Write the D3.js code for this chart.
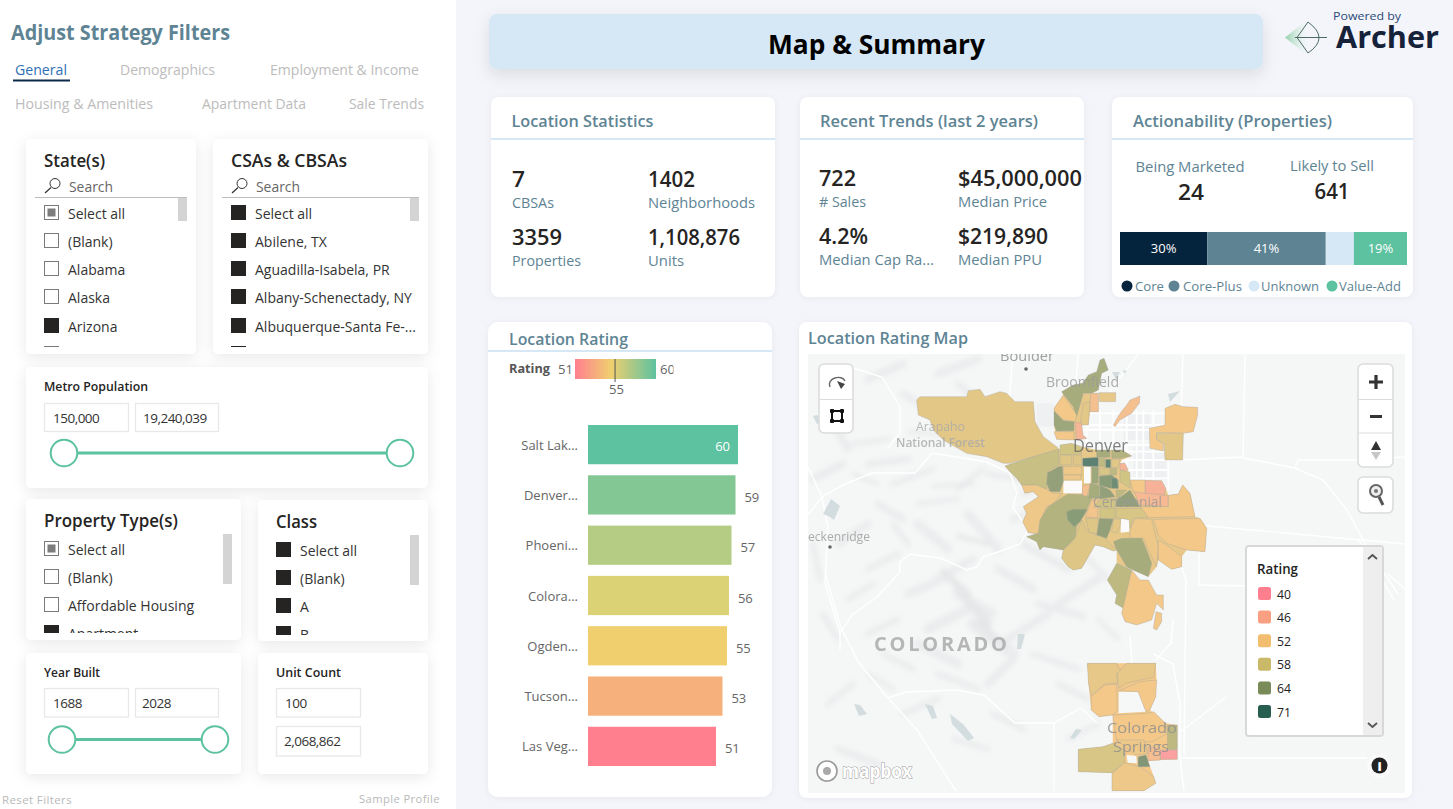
<!DOCTYPE html>
<html><head><meta charset="utf-8">
<script src="https://cdn.jsdelivr.net/npm/d3@7/dist/d3.min.js"></script>
<style>html,body{margin:0;padding:0;background:#f3f5fa;overflow:hidden}svg{display:block}text{font-family:"Open Sans","Noto Sans",sans-serif}</style>
</head><body><svg id="c" width="1453" height="809"></svg>
<script>
// ---------- chart data ----------
const barCategories = ["Salt Lak...","Denver...","Phoeni...","Colora...","Ogden...","Tucson...","Las Veg..."];
const barValues = [60,59,57.4,56.4,55.6,53.8,51.2];
const barColorStops = [51,53,55,56,57,59,60];
const barColorRange = ["#ff7f8e","#f6b07c","#f0cf6f","#dbd175","#b5cc84","#82c794","#5dc2a0"];
const stackCategories = ["Core","Core-Plus","Unknown","Value-Add"];
const stackValues = [30.4,41.3,9.8,18.5];
const stackColors = ["#04233c","#5e8494","#d6e8f5","#5dc2a0"];
const legendRatings = [40,46,52,58,64,71];
const legendColors = ["#ff7f8e","#f9a082","#f2bd6e","#c9b968","#7a8b5a","#285e4f"];
const tabs = [["General",15,75,52],["Demographics",120,75,95],["Employment & Income",270,75,149],["Housing & Amenities",15,109,138],["Apartment Data",202,109,104],["Sale Trends",349,109,75]];
const stateItems = ["Select all","(Blank)","Alabama","Alaska","Arizona",""];
const stateMarks = ["part","off","off","off","on","off"];
const csaItems = ["Select all","Abilene, TX","Aguadilla-Isabela, PR","Albany-Schenectady, NY","Albuquerque-Santa Fe-...",""];
const propItems = ["Select all","(Blank)","Affordable Housing","Apartment"];
const propMarks = ["part","off","off","on"];
const classItems = ["Select all","(Blank)","A","B"];
const locationStats = [["7","CBSAs"],["1402","Neighborhoods"],["3359","Properties"],["1,108,876","Units"]];
const recentTrends = [["722","# Sales"],["$45,000,000","Median Price"],["4.2%","Median Cap Ra..."],["$219,890","Median PPU"]];

// continuous underlays beneath the tract detail
const northUnder = [
[54,"315,348 400,320 480,300 480,285 545,290 590,300 665,300 695,318 665,330 660,340 690,368 690,390 735,390 785,392 797,415 805,436 835,432 848,405 870,430 885,500 900,505 920,535 915,605 860,600 845,620 845,650 815,658 775,630 770,650 745,680 650,640 650,600 640,603 610,590 585,585 545,655 520,660 505,650 485,625 490,600 430,590 420,600 410,575 380,560 415,552 385,548 368,515 380,490 370,470 415,440 400,425 375,430 365,405 350,385 330,365"],
[54,"462,175 490,135 485,125 520,105 548,100 548,130 595,130 595,185 570,185 565,225 545,225 548,255 560,265 530,270 470,268 462,225"]
];
const northHoles = ["490,392 546,392 546,430 490,430","552,350 572,350 572,400 552,400","662,507 688,507 688,545 662,548"];
const southUnder = [[52,"735,370 910,370 912,420 910,470 895,510 935,550 965,555 965,658 890,662 905,710 910,730 880,752 798,752 798,698 712,695 712,628 775,620 800,610 800,525 765,530 745,510 738,430"]];
const southHoles = ["815,455 865,455 885,515 815,520","835,645 860,648 862,670 838,668"];
// tracts on the north map grid: [rating, "u,v ..."]
const northTracts = [
[55,"50,150 60,140 200,140 205,122 240,118 255,140 300,125 320,130 345,155 400,155 405,215 430,260 470,290 480,300 400,320 330,340 310,340 260,320 200,310 130,270 100,240 90,210 55,195"],
[59,"315,348 400,320 475,298 478,345 445,362 440,418 410,405 365,405 350,385 330,365"],
[64,"443,368 475,350 487,348 490,395 480,425 450,425 440,400"],
[53,"365,405 410,405 440,418 460,430 485,430 462,460 440,470 425,505 415,552 385,548 368,515 380,490 370,470 415,440 400,425 375,430"],
[61,"380,560 415,550 420,510 445,470 490,440 505,432 560,435 575,445 555,490 530,530 525,565 490,600 430,590 420,600 410,575"],
[65,"500,485 520,478 562,478 540,515 522,530 503,510"],
[56,"490,600 525,565 545,510 560,540 590,555 600,550 650,600 640,603 610,590 585,585 545,655 520,660 505,650 485,625"],
[51,"557,500 575,450 595,450 592,505"],
[56,"557,505 595,505 595,550 568,548"],
[64,"598,505 640,507 630,540 620,565 590,555"],
[58,"600,475 645,475 645,505 600,505"],
[55,"640,507 662,507 660,530 650,550 635,545"],
[57,"648,475 730,475 745,503 700,505 690,535 688,510 662,505 648,503"],
[64,"648,470 650,450 690,420 720,470"],
[48,"700,420 805,438 805,470 720,465"],
[46,"735,392 785,392 797,415 793,435 735,430"],
[52,"805,436 835,432 848,405 870,430 885,500 745,503 722,470 805,470"],
[52,"760,508 900,505 920,535 915,605 860,600 800,580 775,555"],
[53,"690,540 705,505 755,508 775,590 770,650 745,600 730,565 690,565"],
[52,"775,570 800,585 845,620 845,650 815,658 775,630"],
[62,"650,600 640,575 665,565 725,565 740,600 755,640 745,680 700,660 680,650"],
[60,"650,640 695,660 690,730 670,775 645,760 650,735 622,690"],
[52,"695,660 720,690 745,690 770,735 790,735 790,780 770,760 755,810 710,825 675,815 665,790"],
[52,"768,785 785,790 785,815 770,840 760,835"],
[62,"485,125 520,105 548,100 565,75 590,65 600,30 612,25 625,60 605,70 595,120 575,130 550,130 530,200 520,170"],
[52,"462,175 490,135 530,195 525,215 490,210 462,182"],
[55,"550,160 570,155 565,225 540,225 545,190"],
[50,"572,130 595,130 595,185 570,185"],
[54,"598,128 647,128 647,155 598,155"],
[50,"640,225 660,190 680,165 690,150 720,138 718,160 695,190 660,210 645,230"],
[63,"462,183 490,212 522,215 522,242 470,243 462,225"],
[47,"525,218 545,218 548,255 560,265 530,270"],
[52,"462,245 522,245 522,270 470,268"],
[58,"480,285 515,280 545,290 545,312 480,315"],
[52,"795,175 825,163 850,170 893,172 893,195 880,245 850,250 770,248 770,268 790,280 790,303 750,295 748,235 795,225"],
[55,"770,250 850,250 848,330 795,330 792,280 770,268"],
[56,"480,315 515,315 515,345 480,345"],
[56,"520,315 545,315 545,345 520,345"],
[53,"490,350 545,350 545,375 490,375"],
[53,"490,375 545,375 540,390 490,390"],
[70,"548,325 595,322 595,350 548,348"],
[60,"598,325 615,325 615,350 598,350"],
[69,"617,328 632,328 632,353 617,353"],
[62,"590,300 630,300 630,322 590,322"],
[61,"635,300 665,300 695,318 665,325 635,325"],
[55,"635,328 660,328 655,352 635,352"],
[47,"660,340 675,340 685,360 660,360"],
[63,"575,350 595,350 595,400 575,400"],
[57,"598,355 630,355 630,375 598,375"],
[60,"632,355 650,355 650,375 632,375"],
[65,"598,378 635,375 655,390 655,415 630,415 598,405"],
[68,"635,385 650,385 655,415 635,415"],
[58,"660,360 690,368 690,415 660,395"],
[52,"690,390 735,390 735,430 700,425"],
[62,"570,400 598,405 600,445 565,445"],
[64,"600,405 630,420 645,440 600,447"],
[60,"648,420 680,420 650,450"],
[50,"548,405 570,405 560,440 547,435"],
[58,"600,450 645,445 645,472 580,472"]
];
// tracts on the south map grid
const southTracts = [
[54,"735,370 810,370 815,385 835,395 810,400 812,430 780,432 745,468 738,430"],
[54,"835,370 910,370 905,412 870,420 835,430 815,445 812,400"],
[52,"870,425 912,420 910,470 895,510 885,515 865,455 815,452"],
[52,"745,468 780,435 810,432 812,510 800,525 765,530 745,510"],
[52,"800,525 885,520 905,515 935,550 940,580 900,605 840,610 810,600"],
[60,"940,555 965,555 965,628 940,628"],
[42,"922,630 965,630 965,658 922,658"],
[49,"890,620 920,625 922,660 890,662"],
[57,"712,628 775,620 800,610 832,630 830,670 798,698 712,695"],
[53,"798,700 830,668 870,680 905,710 910,730 880,752 798,752"],
[66,"865,650 885,645 895,680 865,680"],
[53,"810,600 880,600 890,640 860,645 835,625"]
];
// base-map features on the map-corner grid (units = offset from panel corner)
const hillStrokes = [
[60,25,95,10,8],[95,40,130,60,7],[45,90,80,85,5],[20,60,40,95,8],[130,20,170,5,8],[150,30,180,55,7],[5,125,35,110,8],[60,110,100,105,7],[85,130,125,115,6],[110,150,150,145,5],[150,135,175,115,6],[180,120,230,128,6],[140,85,165,70,6],[70,150,95,165,7],[30,190,60,170,8],[110,170,140,195,9],[60,215,90,200,6],[160,160,190,195,9],[130,225,165,205,8],[190,215,225,235,8],[40,245,65,230,6],[85,170,100,190,6],[15,260,30,285,6],[5,190,12,225,6],
[100,240,135,225,8],[150,240,185,260,9],[120,275,160,255,10],[165,270,205,300,12],[110,290,150,310,9],[180,330,205,305,8],[130,320,170,335,6],[60,280,90,265,6],[75,300,105,315,6],[205,165,250,150,7],[215,190,260,215,8],[250,250,290,225,8],[230,250,275,262,7],[275,200,300,225,6],[200,285,240,260,8],[225,300,270,315,6],[290,265,310,285,5],[250,330,280,345,6],[215,140,250,130,5],[95,360,130,345,6],[60,320,85,335,5],[20,350,45,330,6],[145,385,180,395,5],[185,360,215,375,6],[260,385,290,370,5],[30,395,70,410,7]
];
const darkHills = [[150,235,180,270,9],[170,270,195,290,8],[135,218,160,240,7],[45,120,70,130,3],[125,132,165,130,3],[150,182,180,190,4],[160,70,190,75,3],[100,78,130,80,3]];
const roads = [
[[0,161],[14,143],[35,131],[64,119],[107,119],[124,99],[149,103],[179,108],[202,119],[209,139],[205,153],[220,176],[212,190],[190,198],[175,203],[169,213],[159,216],[132,204],[102,200],[92,208],[92,218],[69,243],[44,261],[32,279],[32,296]],
[[45,14],[74,23],[92,53],[92,79],[80,94]],
[[0,113],[14,143],[20,173],[17,229],[32,279]],
[[17,219],[33,274],[51,309],[80,344],[98,338],[148,336],[176,341],[207,369],[246,369],[273,354],[289,369]],
[[80,344],[109,376],[148,437]],[[246,370],[246,437]],[[322,283],[324,309]],[[365,266],[363,289],[348,306]],
[[437,1],[435,103],[372,106]],[[435,104],[487,114],[515,126],[539,156],[559,193],[590,240]],[[487,114],[490,106],[550,106],[597,103]],
[[551,186],[586,246]],[[371,404],[559,404]],[[418,343],[371,379]],[[391,199],[391,231],[500,233],[574,253]],[[580,220],[597,235]],
[[330,0],[300,40],[260,75]],[[205,0],[200,60]],[[270,0],[265,70]],[[375,0],[372,100]],[[300,106],[372,106]],[[340,170],[400,172],[597,190]],[[372,210],[378,225],[376,400]],[[345,300],[365,310],[372,350],[372,404],[376,437]]
];
const urbanV = [600,640,680,710,760,805,560,730];
const urbanH = [190,240,285,330,360,385,225,305];
const lakes = [
[[360,40],[372,37],[362,48]],[[304,18],[312,18],[308,26]],[[315,16],[319,17],[316,20]],
[[9,61],[16,68],[9,70],[5,62]],[[15,160],[23,145],[32,152],[26,166],[22,163]],
[[46,350],[52,351],[59,360],[51,362]],[[117,350],[125,352],[129,364],[124,365]],[[142,360],[155,370],[166,384],[160,387],[144,370]],[[268,375],[274,376],[266,385],[262,384]],[[210,280],[217,280],[213,295],[209,295]]
];
const mapLabels = [
["Boulder",1000,361,54,15,"#8c8c8c",400],["Broomfield",1046,387,73,15,"#9a9a9a",400],["Arapaho",916,431,49,13,"#aaa",400],["National Forest",896,447,89,13,"#aaa",600],
["Denver",1073,452,55,19,"#666",400],["Centennial",1093,507,69,15,"#999",400],["eckenridge",808,541,62,13,"#9a9a9a",400],["Colorado",1107,733,70,15,"#8f8f8f",400],["Springs",1113,752,56,15,"#8f8f8f",400]
];

// ---------- helpers ----------
const svg = d3.select("#c");
const defs = svg.append("defs");
function shadow(id,dy,blur,op){const f=defs.append("filter").attr("id",id).attr("x","-30%").attr("y","-30%").attr("width","160%").attr("height","170%");
  f.append("feDropShadow").attr("dx",0).attr("dy",dy).attr("stdDeviation",blur).attr("flood-color","#000").attr("flood-opacity",op);}
shadow("sh",3,7,.09);shadow("sh2",6,8,.1);shadow("sh3",1,3,.05);
defs.append("filter").attr("id","blur").append("feGaussianBlur").attr("stdDeviation",2.6);
defs.append("filter").attr("id","soft").append("feGaussianBlur").attr("stdDeviation",.45);
function clip(id,x,y,w,h){defs.append("clipPath").attr("id",id).append("rect").attr("x",x).attr("y",y).attr("width",w).attr("height",h);}
function txt(p,s,x,y,size,color,o={}){const t=p.append("text").attr("x",x).attr("y",y).attr("font-size",size).attr("fill",color).attr("font-weight",o.w||400).attr("text-anchor",o.a||"start").text(s);
  if(o.len){t.attr("textLength",o.len).attr("lengthAdjust",o.adj||"spacingAndGlyphs");}
  if(o.ls)t.attr("letter-spacing",o.ls);return t;}
function card(x0,y0,x1,y1,r=6,f="sh"){return svg.append("rect").attr("x",x0).attr("y",y0).attr("width",x1-x0).attr("height",y1-y0).attr("rx",r).attr("fill","#fff").attr("filter",`url(#${f})`);}

// ---------- left panel ----------
svg.append("rect").attr("width",1453).attr("height",809).attr("fill","#f3f5fa");
svg.append("rect").attr("width",456).attr("height",809).attr("fill","#fff");
txt(svg,"Adjust Strategy Filters",11,40,20.5,"#5e8494",{w:700,len:219});
tabs.forEach((t,i)=>txt(svg,t[0],t[1],t[2],14.5,i?"#bcbcbc":"#2f6fb5",{len:t[3]}));
svg.append("rect").attr("x",13).attr("y",79.5).attr("width",57).attr("height",2).attr("fill","#0b2a4a");
[[26,139,196,354],[213,139,428,354],[26,367,428,488],[26,499,241,640],[258,500,428,641],[26,653,241,774],[258,653,428,774]].forEach(c=>card(c[0],c[1],c[2],c[3],5,"sh"));

function slicer(id,title,tx,ty,tlen,items,marks,boxX,rowsY,bottom,scrollX,scrollY0,scrollY1,cardLeft,cardW){
  txt(svg,title,boxX,ty,18,"#252423",{w:600,len:tlen});
  clip(id,cardLeft,rowsY[0]-8,cardW,bottom-rowsY[0]+8);
  const g=svg.append("g").attr("clip-path",`url(#${id})`);
  items.forEach((s,i)=>{const m=marks[i],y=rowsY[i];
    const r=g.append("rect").attr("x",boxX+.5).attr("y",y+.5).attr("width",14).attr("height",14).attr("stroke","#7a7a7a").attr("stroke-width",1).attr("fill",m==="on"?"#252423":"#fff");
    if(m==="on")r.attr("stroke","#252423");
    if(m==="part")g.append("rect").attr("x",boxX+3.5).attr("y",y+3.5).attr("width",8).attr("height",8).attr("fill","#7d7d7d");
    txt(g,s,boxX+24,y+13.5,14,"#333");
  });
  svg.append("rect").attr("x",scrollX).attr("y",scrollY0).attr("width",9).attr("height",scrollY1-scrollY0).attr("fill","#d4d4d4");
}
function searchBar(x,x0,x1){
  const g=svg.append("g");
  g.append("circle").attr("cx",x+11).attr("cy",183.5).attr("r",5).attr("fill","none").attr("stroke","#333").attr("stroke-width",1);
  g.append("line").attr("x1",x+7).attr("y1",187.5).attr("x2",x+1).attr("y2",193).attr("stroke","#333").attr("stroke-width",1.2);
  txt(g,"Search",x+25,191.5,14,"#666",{len:44});
  g.append("line").attr("x1",x0).attr("x2",x1).attr("y1",197.5).attr("y2",197.5).attr("stroke","#bdbdbd");
}
const rows1=[205,233,261,289,318,346];
slicer("cl1","State(s)",44,167,61,stateItems,stateMarks,44,rows1,347,178,198,221,30,155);
slicer("cl2","CSAs & CBSAs",231,167,116,csaItems,["on","on","on","on","on","on"],231,rows1,347,410,198,221,225,195);
searchBar(44,35,187);searchBar(231,222,419);
slicer("cl3","Property Type(s)",44,527,134,propItems,propMarks,44,[541,569,597,625],633,223,534,584,30,190);
slicer("cl4","Class",276,528,41,classItems,["on","on","on","on"],276,[542,570,598,626],635,410,535,585,262,145);

function inputBox(x,y,w,h,s,tx){svg.append("rect").attr("x",x+.5).attr("y",y+.5).attr("width",w).attr("height",h).attr("fill","#fff").attr("stroke","#e8e8e8").attr("stroke-width",1.3);
  txt(svg,s,tx,y+19.5,13.5,"#333",{ls:-.5});}
function rangeSlider(lo,hi,x0,x1,y){const sc=d3.scaleLinear().domain([lo,hi]).range([x0,x1]);
  svg.append("line").attr("x1",sc(lo)).attr("x2",sc(hi)).attr("y1",y).attr("y2",y).attr("stroke","#5dc2a0").attr("stroke-width",3);
  [lo,hi].forEach(v=>svg.append("circle").attr("cx",sc(v)).attr("cy",y).attr("r",13.3).attr("fill","#fff").attr("stroke","#5dc2a0").attr("stroke-width",2));}
txt(svg,"Metro Population",44,391,13,"#252423",{w:600,len:104});
inputBox(44,403,84,28,"150,000",53);inputBox(135,403,83,28,"19,240,039",143);rangeSlider(150000,19240039,64,400,453);
txt(svg,"Year Built",44,677,13,"#252423",{w:600,len:56});
inputBox(44,688,84,28.5,"1688",53);inputBox(135,688,83,28.5,"2028",142);rangeSlider(1688,2028,62,215,739.5);
txt(svg,"Unit Count",276,677,13,"#252423",{w:600,len:65});
inputBox(276,688,84,28.5,"100",285);inputBox(276,726,84,29.5,"2,068,862",284);
txt(svg,"Reset Filters",2,804,11.5,"#b9b9b9",{len:70,ls:.4});
txt(svg,"Sample Profile",359,803,11.5,"#b9b9b9",{len:81,ls:.4});

// ---------- header ----------
card(489,14,1263,69,8,"sh2").attr("fill","#d6e8f5");
txt(svg,"Map & Summary",768,54,27,"#000",{w:700,len:217});
const grad0=defs.append("linearGradient").attr("id","arrow");grad0.append("stop").attr("offset",0).attr("stop-color","#8fcfa8");grad0.append("stop").attr("offset",1).attr("stop-color","#e6f3ee").attr("stop-opacity",.2);
const logo=svg.append("g");
logo.append("path").attr("d","M1285,37.5 L1306,21 L1306,54 Z").attr("fill","url(#arrow)");
logo.append("path").attr("d","M1308,22 Q1330,38 1308,53 L1297,37.5 Z").attr("fill","none").attr("stroke","#4f6b66").attr("stroke-width",1);
logo.append("line").attr("x1",1295).attr("x2",1327).attr("y1",37.5).attr("y2",37.5).attr("stroke","#4f6b66").attr("stroke-width",1);
txt(svg,"Powered by",1333,20,11,"#2b4a78",{len:68});
txt(svg,"Archer",1336,48,30,"#16213a",{w:700,len:103});

// ---------- KPI cards ----------
function kpiHead(x0,x1,title,tx,len){card(x0,97,x1,297,8,"sh3");
  svg.append("rect").attr("x",x0).attr("y",138).attr("width",x1-x0).attr("height",2).attr("fill","#d6e8f5");
  txt(svg,title,tx,127,16,"#5e8494",{w:600,len:len});}
kpiHead(491,775,"Location Statistics",511.5,142);
kpiHead(800,1084,"Recent Trends (last 2 years)",820,218);
kpiHead(1112,1413,"Actionability (Properties)",1133,199);
const kpiW={"7":13,"1402":47,"3359":50,"1,108,876":92,"722":37,"$45,000,000":124,"4.2%":49,"$219,890":90,
 "CBSAs":42,"Neighborhoods":107,"Properties":69,"Units":36,"# Sales":47,"Median Price":89,"Median Cap Ra...":115,"Median PPU":84};
function kpis(list,xs,ys){list.forEach((d,i)=>{const x=xs[i%2],r=Math.floor(i/2);
  txt(svg,d[0],x,ys[r],21.5,"#252423",{w:600,len:kpiW[d[0]]});
  txt(svg,d[1],x,ys[r]+21,14.5,"#5e8494",{len:kpiW[d[1]]});});}
kpis(locationStats,[512,648],[187,245]);
kpis(recentTrends,[819,958],[186,244]);
txt(svg,"Being Marketed",1190,172,14.5,"#5e8494",{a:"middle",len:109});
txt(svg,"Likely to Sell",1332,171,14.5,"#5e8494",{a:"middle",len:84});
txt(svg,"24",1191,200,21.5,"#252423",{w:600,a:"middle",len:26});
txt(svg,"641",1332,199,21.5,"#252423",{w:600,a:"middle",len:35});
// stacked bar
const stackX=d3.scaleLinear().domain([0,d3.sum(stackValues)]).range([1120,1407]);
let acc=0;
stackValues.forEach((v,i)=>{const x0=stackX(acc),x1=stackX(acc+v);acc+=v;
  svg.append("rect").attr("x",x0).attr("y",232).attr("width",x1-x0).attr("height",33).attr("fill",stackColors[i]);
  if(v>15)txt(svg,Math.round(v)+"%",(x0+x1)/2,253,13,"#fff",{a:"middle"});});
[[1127,1135,29],[1174,1183,59],[1254,1261,58],[1332,1339,62]].forEach((p,i)=>{
  svg.append("ellipse").attr("cx",p[0]).attr("cy",286).attr("rx",5.5).attr("ry",5.5).attr("fill",stackColors[i]);
  txt(svg,stackCategories[i],p[1],291,13.5,"#5e8494",{len:p[2]});});

// ---------- bar chart ----------
card(488,322,772,797,10,"sh3");
svg.append("rect").attr("x",488).attr("y",350).attr("width",284).attr("height",2).attr("fill","#d6e8f5");
txt(svg,"Location Rating",509,345,16,"#5e8494",{w:600,len:119});
const color=d3.scaleLinear().domain(barColorStops).range(barColorRange);
const gr=defs.append("linearGradient").attr("id","ratingGrad");
[51,55,60].forEach(v=>gr.append("stop").attr("offset",(v-51)/9*100+"%").attr("stop-color",color(v)));
txt(svg,"Rating",509,373,13,"#555",{w:700,len:41});
txt(svg,"51",558,374,13,"#666",{len:15});
const gradX=d3.scaleLinear().domain([51,60]).range([575,656]);
svg.append("rect").attr("x",gradX(51)).attr("y",359).attr("width",gradX(60)-gradX(51)).attr("height",20).attr("fill","url(#ratingGrad)");
svg.append("line").attr("x1",gradX(55.45)).attr("x2",gradX(55.45)).attr("y1",359).attr("y2",382).attr("stroke","#555").attr("stroke-width",1);
clip("cl60",655,355,18.5,28);
txt(svg.append("g").attr("clip-path","url(#cl60)"),"60",660,374,13,"#666",{len:15});
txt(svg,"55",616.5,394,13,"#666",{a:"middle",len:15});
const xBar=d3.scaleLinear().domain([0,60]).range([588,738]);
const yBar=d3.scaleBand().domain(barCategories).range([425,766]).paddingInner(.22);
const barG=svg.append("g");
barG.selectAll("rect").data(barValues).join("rect").attr("x",xBar(0)).attr("y",(d,i)=>yBar(barCategories[i])).attr("width",d=>xBar(d)-xBar(0)).attr("height",yBar.bandwidth()).attr("fill",d=>color(Math.floor(d)));
barCategories.forEach((c,i)=>{const y=yBar(c)+yBar.bandwidth()/2+5;
  txt(svg,c,578,y,13,"#666",{a:"end"});
  const v=barValues[i];
  if(v===60)txt(svg,Math.floor(v),730,y+1,13,"#fff",{a:"end"});
  else txt(svg,Math.floor(v),xBar(v)+9,y+2,13,"#666",{ls:-.3});});

// ---------- map ----------
card(799,322,1412,798,8,"sh3");
txt(svg,"Location Rating Map",808,344,16,"#5e8494",{w:600,len:160});
clip("mapClip",808,354,597,439);
const map=svg.append("g").attr("clip-path","url(#mapClip)");
const mapBg="#f5f6f6";
map.append("rect").attr("x",808).attr("y",354).attr("width",597).attr("height",439).attr("fill",mapBg);
const tx=d3.scaleLinear().domain([0,597]).range([808,1405]), ty=d3.scaleLinear().domain([0,439]).range([354,793]);
const hill=map.append("g").attr("filter","url(#blur)").attr("stroke-linecap","round");
hillStrokes.forEach(h=>hill.append("line").attr("x1",tx(h[0])).attr("y1",ty(h[1])).attr("x2",tx(h[2])).attr("y2",ty(h[3])).attr("stroke","#ebeced").attr("stroke-width",h[4]));
darkHills.forEach(h=>hill.append("line").attr("x1",tx(h[0])).attr("y1",ty(h[1])).attr("x2",tx(h[2])).attr("y2",ty(h[3])).attr("stroke","#e6e7e8").attr("stroke-width",h[4]));
const nx=d3.scaleLinear().domain([0,960]).range([900,1220]), ny=d3.scaleLinear().domain([0,840]).range([350,630]);
const sx=d3.scaleLinear().domain([0,1568]).range([800,1413]), sy=d3.scaleLinear().domain([0,807]).range([540,809]);
// urban fabric
[[410,160,460,230],[670,190,750,270],[700,280,800,390]].forEach(b=>map.append("rect").attr("x",nx(b[0])).attr("y",ny(b[1])).attr("width",nx(b[2])-nx(b[0])).attr("height",ny(b[3])-ny(b[1])).attr("fill","#eff0f2"));
const road=d3.line().x(d=>tx(d[0])).y(d=>ty(d[1]));
map.append("g").attr("fill","none").attr("stroke","#fff").attr("stroke-width",1.4).selectAll("path").data(roads).join("path").attr("d",road);
urbanV.forEach(u=>map.append("line").attr("x1",nx(u)).attr("x2",nx(u)).attr("y1",ny(180)).attr("y2",ny(420)).attr("stroke","#fff").attr("stroke-width",1.8));
urbanH.forEach(v=>map.append("line").attr("x1",nx(550)).attr("x2",nx(810)).attr("y1",ny(v)).attr("y2",ny(v)).attr("stroke","#fff").attr("stroke-width",1.8));
map.append("g").attr("fill","#d3dde0").selectAll("path").data(lakes).join("path").attr("d",d=>road(d)+"Z");
[[1026,369],[830,547]].forEach(d=>map.append("circle").attr("cx",d[0]).attr("cy",d[1]).attr("r",1.8).attr("fill","#666"));
// tracts: translucent ratings resolved over the base map colour
const tractColor=d3.scaleLinear().domain(legendRatings).range(legendColors);
const solid=r=>d3.interpolateRgb(mapBg,tractColor(r))(.8);
const parse=s=>s.split(" ").map(p=>p.split(",").map(Number));
const nLine=d3.line().x(d=>nx(d[0])).y(d=>ny(d[1])), sLine=d3.line().x(d=>sx(d[0])).y(d=>sy(d[1]));
const tg=map.append("g").attr("filter","url(#soft)");
northUnder.forEach(t=>tg.append("path").attr("d",nLine(parse(t[1]))+"Z").attr("fill",solid(t[0])));
southUnder.forEach(t=>tg.append("path").attr("d",sLine(parse(t[1]))+"Z").attr("fill",solid(t[0])));
northHoles.forEach(h=>tg.append("path").attr("d",nLine(parse(h))+"Z").attr("fill","#fbfbfb"));
southHoles.forEach(h=>tg.append("path").attr("d",sLine(parse(h))+"Z").attr("fill","#f6f7f7"));
const tt=tg.append("g").attr("stroke","#a5a5a0").attr("stroke-opacity",.55).attr("stroke-width",.7);
northTracts.forEach(t=>tt.append("path").attr("d",nLine(parse(t[1]))+"Z").attr("fill",solid(t[0])));
southTracts.forEach(t=>tt.append("path").attr("d",sLine(parse(t[1]))+"Z").attr("fill",solid(t[0])));
// place labels show through the tracts
const lab=map.append("g").attr("opacity",.82);
mapLabels.forEach(l=>txt(lab,l[0],l[1],l[2],l[4],l[5],{len:l[3],w:l[6]}));
txt(lab,"COLORADO",874,651,20,"#a9a9a9",{w:700,len:133,adj:"spacing"});
// mapbox mark
map.append("circle").attr("cx",827).attr("cy",771).attr("r",10).attr("fill","#fff").attr("stroke","#9a9a9a").attr("stroke-width",1.6);
map.append("circle").attr("cx",827).attr("cy",771).attr("r",4).attr("fill","#aaa");
txt(map,"mapbox",842,778,19,"#fff",{w:700,len:70}).attr("stroke","#9a9a9a").attr("stroke-width",1).attr("paint-order","stroke");
// info
map.append("circle").attr("cx",1379).attr("cy",766).attr("r",12).attr("fill","#fafafa");
map.append("circle").attr("cx",1379.5).attr("cy",765.5).attr("r",8).attr("fill","#222");
txt(map,"i",1379.5,771,13,"#fff",{w:800,a:"middle"});
// controls
function ctrl(x0,y0,x1,y1,divs){svg.append("rect").attr("x",x0).attr("y",y0).attr("width",x1-x0).attr("height",y1-y0).attr("rx",5).attr("fill","#fff").attr("stroke","#dcdcdc").attr("stroke-width",1.6);
  divs.forEach(y=>svg.append("line").attr("x1",x0).attr("x2",x1).attr("y1",y).attr("y2",y).attr("stroke","#dcdcdc").attr("stroke-width",1));}
ctrl(819,364,853,433,[399.5]);ctrl(1358,364,1393,467,[399.5,433]);ctrl(1358,477,1393,513,[]);
svg.append("path").attr("d","M830,387 C826,378 842,374 845,381").attr("fill","none").attr("stroke","#666").attr("stroke-width",1.4);
svg.append("path").attr("d","M837,381 L845,384 L841,389 Z").attr("fill","#444");
svg.append("rect").attr("x",832).attr("y",411).attr("width",10).attr("height",10).attr("fill","none").attr("stroke","#111").attr("stroke-width",2);
[[832,411],[842,411],[832,421],[842,421]].forEach(p=>svg.append("rect").attr("x",p[0]-2).attr("y",p[1]-2).attr("width",4).attr("height",4).attr("rx",1).attr("fill","#111"));
svg.append("path").attr("d","M1369,382 h14 M1376,375 v14").attr("stroke","#333").attr("stroke-width",3.2).attr("fill","none");
svg.append("path").attr("d","M1370,416.5 h12").attr("stroke","#333").attr("stroke-width",3).attr("fill","none");
svg.append("path").attr("d","M1376,441 L1381,450 H1371 Z").attr("fill","#333");
svg.append("path").attr("d","M1376,460 L1381,452 H1371 Z").attr("fill","#c8c8c8");
svg.append("circle").attr("cx",1376).attr("cy",491).attr("r",6).attr("fill","#eee").attr("stroke","#666").attr("stroke-width",2);
svg.append("circle").attr("cx",1376).attr("cy",491).attr("r",2).attr("fill","#777");
svg.append("line").attr("x1",1379).attr("y1",497).attr("x2",1383).attr("y2",505).attr("stroke","#555").attr("stroke-width",3);
// rating legend
svg.append("rect").attr("x",1246).attr("y",546).attr("width",137).attr("height",190).attr("rx",3).attr("fill","#fff").attr("stroke","#d8d8d8").attr("stroke-width",2);
svg.append("rect").attr("x",1363).attr("y",547).attr("width",19).attr("height",188).attr("fill","#eeeeee");
svg.append("path").attr("d","M1368,559 l4.5,-4 l4.5,4 M1368,723 l4.5,4 l4.5,-4").attr("fill","none").attr("stroke","#555").attr("stroke-width",1.8);
txt(svg,"Rating",1257,574,13.5,"#222",{w:600,len:41});
const legY=d3.scalePoint().domain(legendRatings).range([593.5,711.5]);
legendRatings.forEach((r,i)=>{svg.append("rect").attr("x",1258).attr("y",legY(r)-6.5).attr("width",13).attr("height",13).attr("rx",2.5).attr("fill",legendColors[i]);
  txt(svg,r,1277,legY(r)+5,13,"#222",{len:14});});
</script></body></html>
